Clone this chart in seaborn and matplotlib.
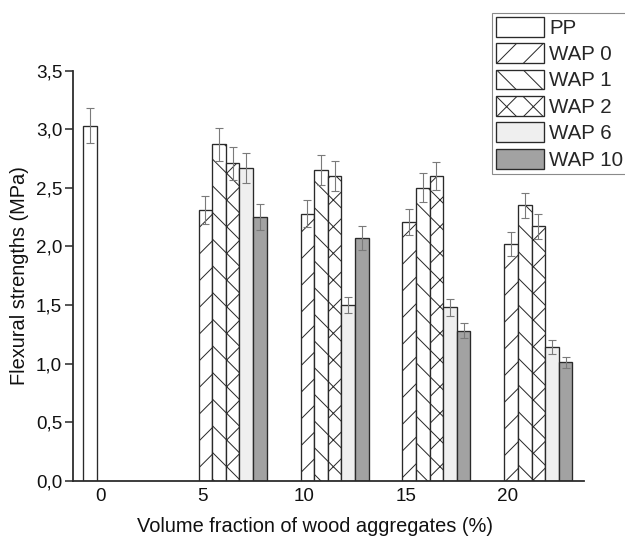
import numpy as np
import pandas as pd
import matplotlib
matplotlib.use("Agg")
import matplotlib.pyplot as plt
from matplotlib.ticker import FuncFormatter
import seaborn as sns

# Flexural strength of PP composites vs. volume fraction of wood aggregates
volumes = [0, 5, 10, 15, 20]
series = ["PP", "WAP 0", "WAP 1", "WAP 2", "WAP 6", "WAP 10"]

pp_vol = [0]
pp_mean = [3.03]
pp_err = [0.15]

wap_vol = [5, 10, 15, 20]
wap0_mean = [2.31, 2.28, 2.21, 2.02]
wap0_err = [0.12, 0.115, 0.11, 0.10]
wap1_mean = [2.87, 2.65, 2.50, 2.35]
wap1_err = [0.14, 0.13, 0.125, 0.11]
wap2_mean = [2.71, 2.60, 2.60, 2.17]
wap2_err = [0.14, 0.13, 0.12, 0.11]
wap6_mean = [2.67, 1.50, 1.48, 1.14]
wap6_err = [0.13, 0.07, 0.075, 0.06]
wap10_mean = [2.25, 2.07, 1.28, 1.01]
wap10_err = [0.11, 0.10, 0.065, 0.05]

means = {"PP": pp_mean, "WAP 0": wap0_mean, "WAP 1": wap1_mean,
         "WAP 2": wap2_mean, "WAP 6": wap6_mean, "WAP 10": wap10_mean}
errs = {"PP": pp_err, "WAP 0": wap0_err, "WAP 1": wap1_err,
        "WAP 2": wap2_err, "WAP 6": wap6_err, "WAP 10": wap10_err}
vols = {s: (pp_vol if s == "PP" else wap_vol) for s in series}

rows = []
for s in series:
    for v, m in zip(vols[s], means[s]):
        rows.append({"volume": v, "strength": m, "series": s})
df = pd.DataFrame(rows)

fills = {"PP": "white", "WAP 0": "white", "WAP 1": "white", "WAP 2": "white",
         "WAP 6": "#efefef", "WAP 10": "#a2a2a2"}
hatches = {"PP": "", "WAP 0": "/", "WAP 1": "\\", "WAP 2": "x",
           "WAP 6": "", "WAP 10": ""}

sns.set_style("ticks")
plt.rcParams["font.family"] = ["Liberation Sans", "DejaVu Sans"]
plt.rcParams["hatch.linewidth"] = 0.9

DPI = 80
fig = plt.figure(figsize=(625 / DPI, 539 / DPI), dpi=DPI)
ax = fig.add_axes([72.7 / 625, 1 - 480.7 / 539, (584 - 72.7) / 625, (480.7 - 70.7) / 539])

sns.barplot(data=df, x="volume", y="strength", hue="series", hue_order=series,
            palette=fills, native_scale=True, dodge=True, errorbar=None,
            edgecolor="#2a2a2a", linewidth=1.2, legend=False, ax=ax)

handles = []
for s, cont in zip(series, ax.containers):
    xs, ys = [], []
    for p in cont.patches:
        p.set_hatch(hatches[s])
        p.set_edgecolor("#2a2a2a")
        xs.append(p.get_x() + p.get_width() / 2)
        ys.append(p.get_height())
    ax.errorbar(xs, ys, yerr=errs[s], fmt="none", ecolor="#7a7a7a",
                elinewidth=1.0, capsize=3.6, capthick=1.0, zorder=5)
    handles.append(cont.patches[0])

ax.set_xlim(-2.51, 22.57)
ax.set_ylim(0, 3.5)
ax.set_xticks(np.array(volumes) - 1.16)
ax.set_xticklabels([str(v) for v in volumes])
ax.set_yticks(np.arange(0, 3.51, 0.5))
ax.yaxis.set_major_formatter(FuncFormatter(lambda v, _: f"{v:.1f}".replace(".", ",")))

ax.tick_params(axis="x", length=0, pad=7, labelsize=17, colors="#111111")
ax.tick_params(axis="y", length=7, width=1.4, pad=2.5, direction="out",
               labelsize=17, colors="#111111", color="#2a2a2a")
for side in ["top", "right"]:
    ax.spines[side].set_visible(False)
for side in ["left", "bottom"]:
    ax.spines[side].set_linewidth(1.6)
    ax.spines[side].set_color("#2a2a2a")

ax.set_xlabel("Volume fraction of wood aggregates (%)", fontsize=18, labelpad=8, color="#111111")
ax.set_ylabel("Flexural strengths (MPa)", fontsize=18, labelpad=6, color="#111111")
ax.xaxis.set_label_coords(0.474, -0.088)

leg = fig.legend(handles, series, loc="upper left",
                 bbox_to_anchor=(491.7 / 625, 1 - 12.7 / 539),
                 bbox_transform=fig.transFigure, frameon=True, fancybox=False,
                 edgecolor="#8a8a8a", framealpha=1, fontsize=18.5,
                 handlelength=2.35, handleheight=1.1, labelspacing=0.27,
                 handletextpad=0.25, borderpad=0.2, borderaxespad=0)
leg.get_frame().set_linewidth(1.0)

fig.savefig("out.png", dpi=DPI)
